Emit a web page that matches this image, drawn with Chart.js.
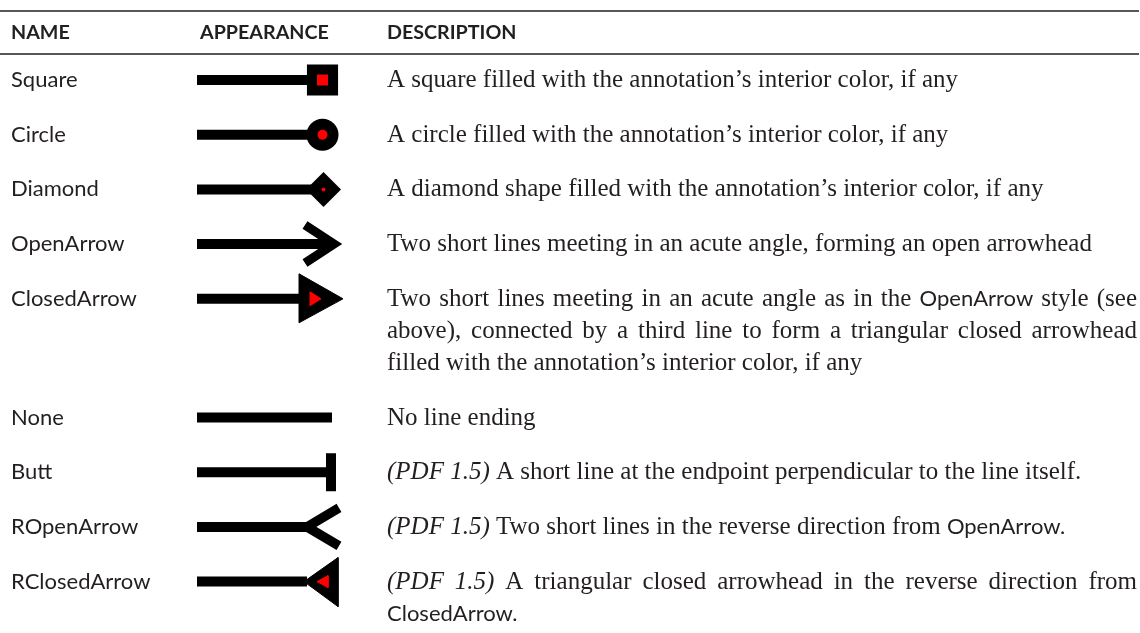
<!DOCTYPE html>
<html lang="en">
<head>
<meta charset="UTF-8">
<title>Line ending styles</title>
<script src="https://cdn.jsdelivr.net/npm/chart.js@4"></script>
<style>
  html, body { margin: 0; padding: 0; background: #fff; }
  #wrap { width: 1140px; height: 633px; }
</style>
</head>
<body>
<div id="wrap"><canvas id="table" width="1140" height="633"></canvas></div>
<script>
  // Table content
  const headers = ['NAME', 'APPEARANCE', 'DESCRIPTION'];
  const names = ['Square', 'Circle', 'Diamond', 'OpenArrow', 'ClosedArrow', 'None', 'Butt', 'ROpenArrow', 'RClosedArrow'];
  // one entry per printed line; *..* is italic, `..` is set in the sans face
  const descriptions = [
    ['A square filled with the annotation\u2019s interior color, if any'],
    ['A circle filled with the annotation\u2019s interior color, if any'],
    ['A diamond shape filled with the annotation\u2019s interior color, if any'],
    ['Two short lines meeting in an acute angle, forming an open arrowhead'],
    ['Two short lines meeting in an acute angle as in the `OpenArrow` style (see',
     'above), connected by a third line to form a triangular closed arrowhead',
     'filled with the annotation\u2019s interior color, if any'],
    ['No line ending'],
    ['*(PDF 1.5)* A short line at the endpoint perpendicular to the line itself.'],
    ['*(PDF 1.5)* Two short lines in the reverse direction from `OpenArrow.`'],
    ['*(PDF 1.5)* A triangular closed arrowhead in the reverse direction from',
     '`ClosedArrow.`']
  ];

  // Look of the page
  const W = 1140, H = 633;
  const INK = '#231f20', BLACK = '#000000', RED = '#ff0000';
  const FONT = {
    head: 'bold 19.7px Lato',
    name: '22px Lato',
    serif: '25px "Liberation Serif"',
    italic: 'italic 25px "Liberation Serif"',
    sans: '22px Lato'
  };
  const COL_X = [11, 200, 387];
  const DESC_RIGHT = 1137;
  const RULE_Y = [11, 54];
  const HEADER_Y = 32;
  const FIRST_ROW_Y = 80, ROW_PITCH = 54.7, LINE_PITCH = 32;
  const GLYPH_X = 197;

  // Each ending: shaft length, then head parts relative to (GLYPH_X, row centre)
  const glyphShapes = {
    Square:       { shaft: 115, parts: [{ point: 'rect', dx: 125.5, r: 22 }, { point: 'rect', dx: 125.5, r: 7.8, red: true }] },
    Circle:       { shaft: 115, parts: [{ point: 'circle', dx: 125.5, r: 16 }, { point: 'circle', dx: 125.5, r: 5, red: true }] },
    Diamond:      { shaft: 118, parts: [{ point: 'rectRot', dx: 126.5, r: 17.5 }, { point: 'circle', dx: 126.5, r: 2, red: true }] },
    OpenArrow:    { shaft: 130, parts: [{ stroke: [[108, -19], [137, 0], [108, 19]], w: 9 }] },
    ClosedArrow:  { shaft: 106, parts: [{ poly: [[102, -25], [146, 0], [102, 24]] }, { poly: [[113, -7], [124, 0], [113, 7]], red: true }] },
    None:         { shaft: 135, parts: [] },
    Butt:         { shaft: 131, parts: [{ stroke: [[134, -19], [134, 19]], w: 10 }] },
    ROpenArrow:   { shaft: 113, parts: [{ stroke: [[142, -19], [110, 0], [142, 19]], w: 9.5 }] },
    RClosedArrow: { shaft: 110, parts: [{ poly: [[107, 0], [141, -24], [141, 25]] }, { poly: [[120, 0], [131, -6], [131, 6]], red: true }] }
  };

  // Row centres follow from how many lines each description takes
  const rowY = [];
  let nextY = FIRST_ROW_Y;
  descriptions.forEach(lines => {
    rowY.push(nextY);
    nextY += ROW_PITCH + (lines.length - 1) * LINE_PITCH;
  });

  // Build the glyph datasets
  const base = { pointRadius: 0, clip: false, tension: 0, fill: false, borderCapStyle: 'butt', borderJoinStyle: 'miter' };
  const datasets = [];
  names.forEach((name, i) => {
    const g = glyphShapes[name];
    const yc = rowY[i];
    datasets.push(Object.assign({}, base, {
      data: [{ x: GLYPH_X, y: yc }, { x: GLYPH_X + g.shaft, y: yc }],
      borderWidth: 10, borderColor: BLACK, order: 3
    }));
    g.parts.forEach(p => {
      const color = p.red ? RED : BLACK;
      const order = p.red ? 1 : 2;
      const pts = (p.stroke || p.poly || []).map(([dx, dy]) => ({ x: GLYPH_X + dx, y: yc + dy }));
      if (p.point) {
        datasets.push(Object.assign({}, base, {
          data: [{ x: GLYPH_X + p.dx, y: yc }], showLine: false,
          pointStyle: p.point, pointRadius: p.r, pointBackgroundColor: color, pointBorderWidth: 0, order
        }));
      } else if (p.poly) {
        datasets.push(Object.assign({}, base, {
          data: pts.concat([pts[0]]), borderWidth: 1, borderColor: color,
          backgroundColor: color, fill: 'shape', order
        }));
      } else {
        datasets.push(Object.assign({}, base, { data: pts, borderWidth: p.w, borderColor: color, order }));
      }
    });
  });

  // Split a printed line into words made of styled runs
  function parseLine(line) {
    const words = [[]];
    line.split(/(\*[^*]+\*|`[^`]+`)/).filter(Boolean).forEach(seg => {
      let style = 'serif', txt = seg;
      if (seg[0] === '*') { style = 'italic'; txt = seg.slice(1, -1); }
      else if (seg[0] === '`') { style = 'sans'; txt = seg.slice(1, -1); }
      txt.split(' ').forEach((piece, k) => {
        if (k > 0) words.push([]);
        if (piece) words[words.length - 1].push({ text: piece, style });
      });
    });
    return words.filter(w => w.length);
  }

  function wordWidth(ctx, word) {
    return word.reduce((s, run) => { ctx.font = FONT[run.style]; return s + ctx.measureText(run.text).width; }, 0);
  }

  function drawLine(ctx, line, left, right, baseline, justify) {
    const words = parseLine(line);
    const widths = words.map(w => wordWidth(ctx, w));
    ctx.font = FONT.serif;
    let gap = ctx.measureText(' ').width;
    if (justify && words.length > 1) {
      gap = (right - left - widths.reduce((a, b) => a + b, 0)) / (words.length - 1);
    }
    let cx = left;
    words.forEach(word => {
      word.forEach(run => {
        ctx.font = FONT[run.style];
        ctx.fillText(run.text, cx, baseline);
        cx += ctx.measureText(run.text).width;
      });
      cx += gap;
    });
  }

  const tableText = {
    id: 'tableText',
    afterDraw(chart) {
      const { ctx, scales: { x, y } } = chart;
      ctx.save();
      ctx.strokeStyle = INK;
      ctx.lineWidth = 1.6;
      RULE_Y.forEach(ry => {
        ctx.beginPath();
        ctx.moveTo(x.getPixelForValue(0), y.getPixelForValue(ry));
        ctx.lineTo(x.getPixelForValue(W - 1), y.getPixelForValue(ry));
        ctx.stroke();
      });
      ctx.fillStyle = INK;
      ctx.textBaseline = 'alphabetic';
      ctx.font = FONT.head;
      headers.forEach((h, c) => ctx.fillText(h, x.getPixelForValue(COL_X[c]), y.getPixelForValue(HEADER_Y) + 7));
      names.forEach((name, i) => {
        const base = y.getPixelForValue(rowY[i]) + 7;
        ctx.font = FONT.name;
        ctx.fillText(name, x.getPixelForValue(COL_X[0]), base);
        descriptions[i].forEach((line, k) => {
          const last = k === descriptions[i].length - 1;
          drawLine(ctx, line, x.getPixelForValue(COL_X[2]), x.getPixelForValue(DESC_RIGHT), base + k * LINE_PITCH, !last);
        });
      });
      ctx.restore();
    }
  };

  new Chart(document.getElementById('table'), {
    type: 'line',
    data: { datasets },
    options: {
      responsive: false,
      animation: false,
      events: [],
      layout: { padding: 0, autoPadding: false },
      plugins: { legend: { display: false }, tooltip: { enabled: false } },
      scales: {
        x: { type: 'linear', min: 0, max: W, display: false },
        y: { type: 'linear', min: 0, max: H, reverse: true, display: false }
      }
    },
    plugins: [tableText]
  });
</script>
</body>
</html>
